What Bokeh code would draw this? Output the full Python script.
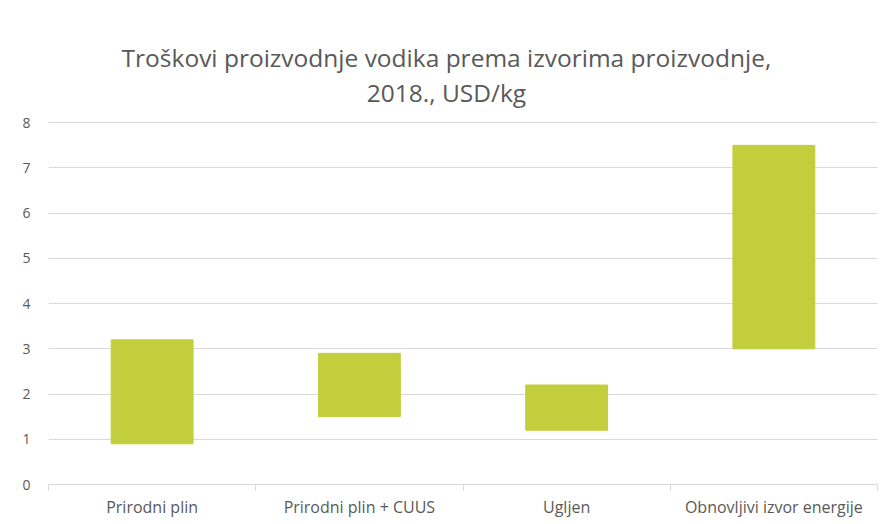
from bokeh.plotting import figure
from bokeh.models import Range1d, FixedTicker
from bokeh.core.properties import value
from bokeh.embed import file_html
from bokeh.resources import INLINE

categories = ["Prirodni plin", "Prirodni plin + CUUS", "Ugljen", "Obnovljivi izvor energije"]
low = [0.9, 1.5, 1.2, 3.0]
high = [3.2, 2.9, 2.2, 7.5]
y_ticks = [0, 1, 2, 3, 4, 5, 6, 7, 8]
title_lines = ["Troškovi proizvodnje vodika prema izvorima proizvodnje,", "2018., USD/kg"]

n = len(categories)
xs = [i + 0.5 for i in range(n)]
bounds = [float(i) for i in range(n + 1)]

TXT = "#595959"
GRID = "#d9d9d9"

# layout: frame spans canvas y 0..487; value axis 0..8 occupies the lower 364 px
FRAME_H = 487
PX_PER_UNIT = 364 / y_ticks[-1]
y_top = FRAME_H / PX_PER_UNIT

p = figure(width=880, height=520, output_backend="svg", toolbar_location=None,
           title_location=None,
           x_range=Range1d(0, n), y_range=Range1d(y_ticks[0], y_top),
           min_border_left=48, min_border_right=3, min_border_top=0, min_border_bottom=33)
p.outline_line_color = None
p.background_fill_color = "white"
p.border_fill_color = "white"

# title lines (baselines at canvas y 57 and 93)
title_y = [(FRAME_H - 57) / PX_PER_UNIT, (FRAME_H - 93) / PX_PER_UNIT]
title_x = [n / 2 - 0.08] * len(title_lines)
p.text(x=title_x, y=title_y, text=title_lines, text_align="center", text_baseline="alphabetic",
       text_font=value("Open Sans"), text_font_size=value("24.5px"), text_color=TXT)

p.vbar(x=xs, bottom=low, top=high, width=0.395, fill_color="#C2CE3C", line_color="#C2CE3C")

p.xgrid.grid_line_color = None
p.ygrid.ticker = FixedTicker(ticks=y_ticks)
p.ygrid.grid_line_color = GRID

xa = p.xaxis[0]
xa.ticker = FixedTicker(ticks=xs, minor_ticks=bounds)
xa.major_label_overrides = {x: c for x, c in zip(xs, categories)}
xa.major_tick_line_color = None
xa.major_tick_out = 0
xa.major_tick_in = 0
xa.minor_tick_in = 0
xa.minor_tick_out = 6
xa.minor_tick_line_color = GRID
xa.axis_line_color = GRID
xa.major_label_standoff = 5
xa.major_label_text_font = "Open Sans"
xa.major_label_text_font_size = "16px"
xa.major_label_text_color = TXT

ya = p.yaxis[0]
ya.ticker = FixedTicker(ticks=y_ticks)
ya.axis_line_color = None
ya.major_tick_line_color = None
ya.minor_tick_line_color = None
ya.major_tick_out = 0
ya.major_label_standoff = 18
ya.major_label_text_font = "Open Sans"
ya.major_label_text_font_size = "14px"
ya.major_label_text_color = TXT

open("out.html", "w").write(file_html(p, INLINE))
